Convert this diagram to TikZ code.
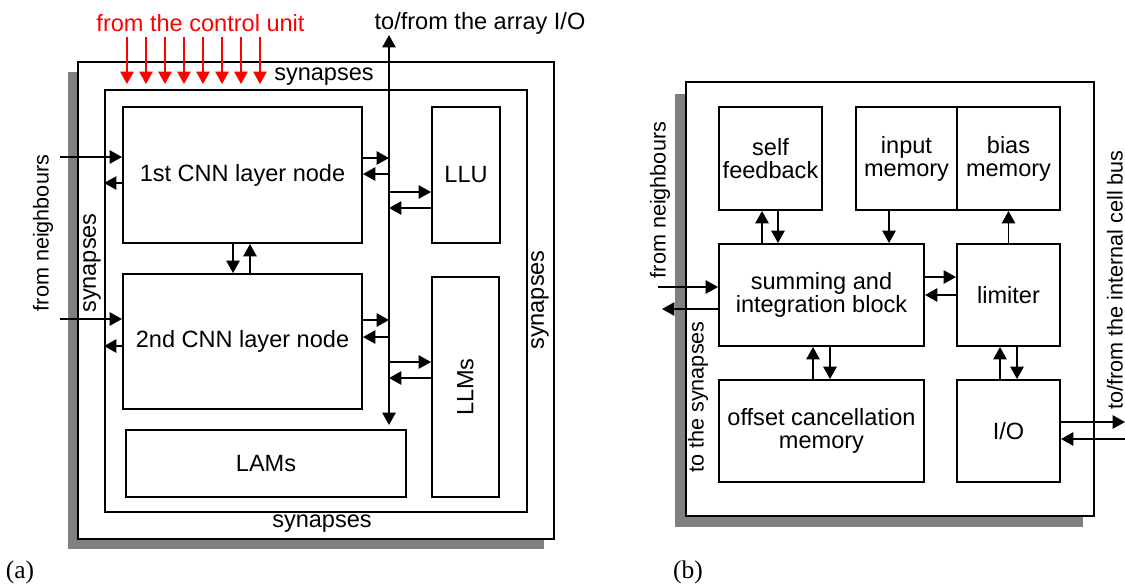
\documentclass[tikz,border=0pt]{standalone}
\usepackage{fontspec}
\setsansfont{Liberation Sans}
\newfontfamily\capfont{Liberation Serif}
\usetikzlibrary{arrows.meta}
\newlength\pxu
\setlength\pxu{0.02cm}

\begin{document}
\begin{tikzpicture}[x=0.02cm,y=-0.02cm,
  font=\sffamily\fontsize{13.4pt}{13pt}\selectfont,
  >={Triangle[length=7pt,width=7.5pt]},
  every path/.style={line width=1.1pt},
  blk/.style={draw,fill=white,inner sep=0pt,align=center},
  sidetxt/.style={rotate=90,font=\sffamily\fontsize{12.3pt}{13pt}\selectfont},
  captxt/.style={font=\capfont\fontsize{14.5pt}{15pt}\selectfont}]
\useasboundingbox (0,0) rectangle (1125,583);

\fill[black!50] (68,72) rectangle (544,549);
\node[blk,minimum width=476\pxu,minimum height=477\pxu] (outerA) at (316,300.5) {};
\node[blk,minimum width=422\pxu,minimum height=422\pxu] (innerA) at (316,301) {};
\node[blk,minimum width=239\pxu,minimum height=136\pxu] (cnnA) at (242.5,175) {1st CNN layer node};
\node[blk,minimum width=239\pxu,minimum height=135\pxu] (cnnB) at (242.5,341.5) {2nd CNN layer node};
\node[blk,minimum width=68\pxu,minimum height=136\pxu] (llu) at (466,175) {LLU};
\node[blk,minimum width=67\pxu,minimum height=220\pxu] (llm) at (465.5,387) {\rotatebox{90}{LLMs}};
\node[blk,minimum width=280\pxu,minimum height=67\pxu] (lam) at (266,463.5) {LAMs};
\coordinate (busT) at (389,35);
\coordinate (busB) at (389,425);
\draw[<->] (busB) -- (busT);

\node[red] (ctrl) at (200.5,23) {from the control unit};
\foreach \i in {0,...,7}
  \draw[red,->] ({127+19*\i},37) -- ({127+19*\i},84);
\node (arrayio) at (480,23) {to/from the array I/O};
\node (synT) at (324,77) {synapses};
\node (synB) at (322,524) {synapses};
\node[rotate=90] (synL) at (92,263) {synapses};
\node[rotate=90] (synR) at (540,300) {synapses};
\node[sidetxt] (nbA) at (43,233) {from neighbours};
\node[captxt] (capA) at (20,572) {(a)};

\draw[->] (60,157) -- (cnnA.west |- 0,157);
\draw[->] (cnnA.west |- 0,183) -- (innerA.west |- 0,183);
\draw[->] (60,319) -- (cnnB.west |- 0,319);
\draw[->] (cnnB.west |- 0,346) -- (innerA.west |- 0,346);
\draw[->] (cnnA.east |- 0,158) -- (busT |- 0,158);
\draw[->] (busT |- 0,174) -- (cnnA.east |- 0,174);
\draw[->] (busT |- 0,192) -- (llu.west |- 0,192);
\draw[->] (llu.west |- 0,208) -- (busT |- 0,208);
\draw[->] (cnnB.east |- 0,320) -- (busT |- 0,320);
\draw[->] (busT |- 0,337) -- (cnnB.east |- 0,337);
\draw[->] (busT |- 0,362) -- (llm.west |- 0,362);
\draw[->] (llm.west |- 0,378) -- (busT |- 0,378);
\draw[->] (cnnA.south -| 233,0) -- (cnnB.north -| 233,0);
\draw[->] (cnnB.north -| 250,0) -- (cnnA.south -| 250,0);

\fill[black!50] (675,94) rectangle (1083,527);
\node[blk,minimum width=408\pxu,minimum height=434\pxu] (outerB) at (890,299) {};
\node[blk,minimum width=103\pxu,minimum height=103\pxu] (self) at (770.5,158.5) {self\\feedback};
\node[blk,minimum width=101\pxu,minimum height=103\pxu] (inmem) at (906.5,158.5) {input\\memory};
\node[blk,minimum width=103\pxu,minimum height=103\pxu] (bias) at (1008.5,158.5) {bias\\memory};
\node[blk,minimum width=205\pxu,minimum height=102\pxu] (sum) at (821.5,295) {summing and\\integration block};
\node[blk,minimum width=103\pxu,minimum height=102\pxu] (lim) at (1008.5,295) {limiter};
\node[blk,minimum width=205\pxu,minimum height=102\pxu] (offs) at (821.5,431) {offset cancellation\\memory};
\node[blk,minimum width=103\pxu,minimum height=102\pxu] (io) at (1008.5,431) {I/O};

\node[sidetxt] (nbB) at (660,200) {from neighbours};
\node[sidetxt] (toSyn) at (698,397) {to the synapses};
\node[sidetxt] (cellbus) at (1115,280) {to/from the internal cell bus};
\node[captxt] (capB) at (688,572) {(b)};

\draw[->] (sum.north -| 762,0) -- (self.south -| 762,0);
\draw[->] (self.south -| 778,0) -- (sum.north -| 778,0);
\draw[->] (inmem.south -| 889,0) -- (sum.north -| 889,0);
\draw[->] (lim.north) -- (bias.south);
\draw[->] (sum.east |- 0,277) -- (lim.west |- 0,277);
\draw[->] (lim.west |- 0,295) -- (sum.east |- 0,295);
\draw[->] (offs.north -| 813,0) -- (sum.south -| 813,0);
\draw[->] (sum.south -| 830,0) -- (offs.north -| 830,0);
\draw[->] (io.north -| 1000,0) -- (lim.south -| 1000,0);
\draw[->] (lim.south -| 1017,0) -- (io.north -| 1017,0);
\draw[->] (658,287) -- (sum.west |- 0,287);
\draw[->] (sum.west |- 0,309) -- (662,309);
\draw[->] (io.east |- 0,422) -- (1125,422);
\draw[->] (1125,439) -- (io.east |- 0,439);
\end{tikzpicture}
\end{document}
